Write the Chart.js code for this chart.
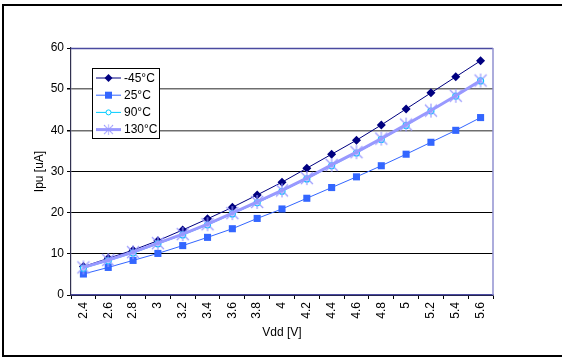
<!DOCTYPE html>
<html>
<head>
<meta charset="utf-8">
<script src="https://cdn.jsdelivr.net/npm/chart.js@4"></script>
<style>
html,body{margin:0;padding:0;background:#fff;}
#wrap{width:562px;height:358px;position:relative;}
</style>
</head>
<body>
<div id="wrap"><canvas id="c" width="562" height="358"></canvas></div>
<script>
const categories = ['2.4','2.6','2.8','3','3.2','3.4','3.6','3.8','4','4.2','4.4','4.6','4.8','5','5.2','5.4','5.6'];
const seriesM45 = [6.9, 8.9, 10.9, 13.2, 15.8, 18.5, 21.3, 24.3, 27.4, 30.8, 34.2, 37.6, 41.3, 45.2, 49.1, 53.0, 56.9];
const series25  = [5.1, 6.7, 8.4, 10.1, 12.0, 14.0, 16.1, 18.6, 20.9, 23.5, 26.1, 28.7, 31.4, 34.2, 37.1, 40.0, 43.1];
const series90  = [6.5, 8.3, 10.2, 12.4, 14.6, 17.0, 19.7, 22.4, 25.2, 28.2, 31.4, 34.5, 37.8, 41.2, 44.7, 48.3, 52.0];
const series130 = [6.7, 8.5, 10.4, 12.6, 14.8, 17.2, 19.9, 22.6, 25.4, 28.4, 31.6, 34.7, 38.0, 41.4, 44.8, 48.4, 52.1];
const seriesLabels = ['-45°C', '25°C', '90°C', '130°C'];
const yTicks = [0, 10, 20, 30, 40, 50, 60];

const FONT = "'Liberation Sans', Arial, sans-serif";

function starPoint() {
  const c = document.createElement('canvas');
  c.width = 16; c.height = 16;
  const g = c.getContext('2d');
  g.strokeStyle = '#9999FF';
  g.lineWidth = 1.2;
  g.beginPath();
  g.moveTo(2,2); g.lineTo(14,14);
  g.moveTo(14,2); g.lineTo(2,14);
  g.moveTo(8,1); g.lineTo(8,15);
  g.stroke();
  return c;
}
const star = starPoint();

const frame = {
  id: 'frame',
  beforeDraw(chart) {
    const ctx = chart.ctx;
    ctx.save();
    ctx.fillStyle = '#fff';
    ctx.fillRect(0, 0, chart.width, chart.height);
    ctx.restore();
  },
  afterDraw(chart) {
    const ctx = chart.ctx;
    const a = chart.chartArea;
    ctx.save();
    ctx.strokeStyle = '#000';
    ctx.lineWidth = 2;
    ctx.strokeRect(3, 5, 566, 351);
    ctx.lineWidth = 1.5;
    ctx.strokeStyle = '#4a4aa0';
    ctx.beginPath(); ctx.moveTo(a.left, a.top + 0.5); ctx.lineTo(a.right, a.top + 0.5); ctx.stroke();
    ctx.strokeStyle = '#9090d0';
    ctx.beginPath(); ctx.moveTo(a.right, a.top); ctx.lineTo(a.right, a.bottom); ctx.stroke();
    ctx.restore();
    // legend
    const x0 = 92, y0 = 68, w = 67, h = 70;
    ctx.save();
    ctx.fillStyle = '#fff';
    ctx.fillRect(x0, y0, w, h);
    ctx.strokeStyle = '#000';
    ctx.lineWidth = 1;
    ctx.strokeRect(x0 + 0.5, y0 + 0.5, w, h);
    ctx.font = '12px ' + FONT;
    ctx.textBaseline = 'middle';
    chart.data.datasets.forEach((ds, i) => {
      const yy = y0 + 10 + i * 17.2;
      ctx.strokeStyle = ds.borderColor;
      ctx.lineWidth = ds.borderWidth;
      ctx.beginPath(); ctx.moveTo(x0 + 4, yy); ctx.lineTo(x0 + 29, yy); ctx.stroke();
      const cx = x0 + 16.5;
      if (i === 0) {
        ctx.fillStyle = ds.backgroundColor;
        ctx.beginPath(); ctx.moveTo(cx, yy - 4); ctx.lineTo(cx + 4, yy); ctx.lineTo(cx, yy + 4); ctx.lineTo(cx - 4, yy); ctx.closePath(); ctx.fill();
      } else if (i === 1) {
        ctx.fillStyle = ds.backgroundColor;
        ctx.fillRect(cx - 3.5, yy - 3.5, 7, 7);
      } else if (i === 2) {
        ctx.fillStyle = '#fff';
        ctx.strokeStyle = ds.borderColor;
        ctx.lineWidth = 1;
        ctx.beginPath(); ctx.arc(cx, yy, 2.5, 0, Math.PI * 2); ctx.fill(); ctx.stroke();
      } else {
        ctx.drawImage(star, cx - 6, yy - 6, 12, 12);
      }
      ctx.fillStyle = '#000';
      ctx.fillText(ds.label, x0 + 32, yy + 0.5);
    });
    ctx.restore();
  }
};

new Chart(document.getElementById('c'), {
  type: 'line',
  data: {
    labels: categories,
    datasets: [
      { label: seriesLabels[0], data: seriesM45, borderColor: '#000080', backgroundColor: '#000080', borderWidth: 1, pointStyle: 'rectRot', pointRadius: 4.5, pointBorderWidth: 0, order: 1 },
      { label: seriesLabels[1], data: series25, borderColor: '#3366FF', backgroundColor: '#3366FF', borderWidth: 1, pointStyle: 'rect', pointRadius: 5, pointBorderWidth: 0, order: 2 },
      { label: seriesLabels[2], data: series90, borderColor: '#00CCFF', backgroundColor: '#fff', borderWidth: 1, pointStyle: 'circle', pointRadius: 3, pointBorderWidth: 1.2, order: 0.5 },
      { label: seriesLabels[3], data: series130, borderColor: '#9999FF', backgroundColor: '#9999FF', borderWidth: 3, pointStyle: star, pointRadius: 6, order: 0 }
    ]
  },
  options: {
    responsive: false,
    animation: false,
    events: [],
    layout: { padding: { left: 32, top: 48, right: 69, bottom: 0 } },
    plugins: { legend: { display: false }, tooltip: { enabled: false } },
    elements: { line: { tension: 0 } },
    scales: {
      x: {
        type: 'category',
        offset: true,
        afterFit(s) { s.height = 63; },
        grid: { offset: true, drawOnChartArea: false, drawTicks: true, tickLength: 4, color: '#000', tickColor: '#000' },
        border: { display: true, color: '#4a4aa0', width: 1.5 },
        ticks: { minRotation: 90, maxRotation: 90, autoSkip: false, color: '#000', font: { family: FONT, size: 12 }, padding: 3 },
        title: { display: true, text: 'Vdd [V]', color: '#000', font: { family: FONT, size: 12 }, padding: { top: 0, bottom: 18 } }
      },
      y: {
        min: 0, max: 60,
        afterFit(s) { s.width = 39; },
        afterBuildTicks(s) { s.ticks = yTicks.map(v => ({ value: v })); },
        grid: {
          drawTicks: true, tickLength: 4,
          color: ctx => (ctx.tick && (ctx.tick.value === 40 || ctx.tick.value === 50)) ? '#6e6e6e' : '#000',
          lineWidth: ctx => (ctx.tick && (ctx.tick.value === 40 || ctx.tick.value === 50)) ? 1.5 : 1,
          tickColor: '#000'
        },
        border: { display: true, color: '#303050', width: 1.2 },
        ticks: { color: '#000', font: { family: FONT, size: 12 }, padding: 3 },
        title: { display: true, text: 'Ipu [uA]', color: '#000', font: { family: FONT, size: 12 }, padding: { top: 0, bottom: 2 } }
      }
    }
  },
  plugins: [frame]
});
</script>
</body>
</html>
